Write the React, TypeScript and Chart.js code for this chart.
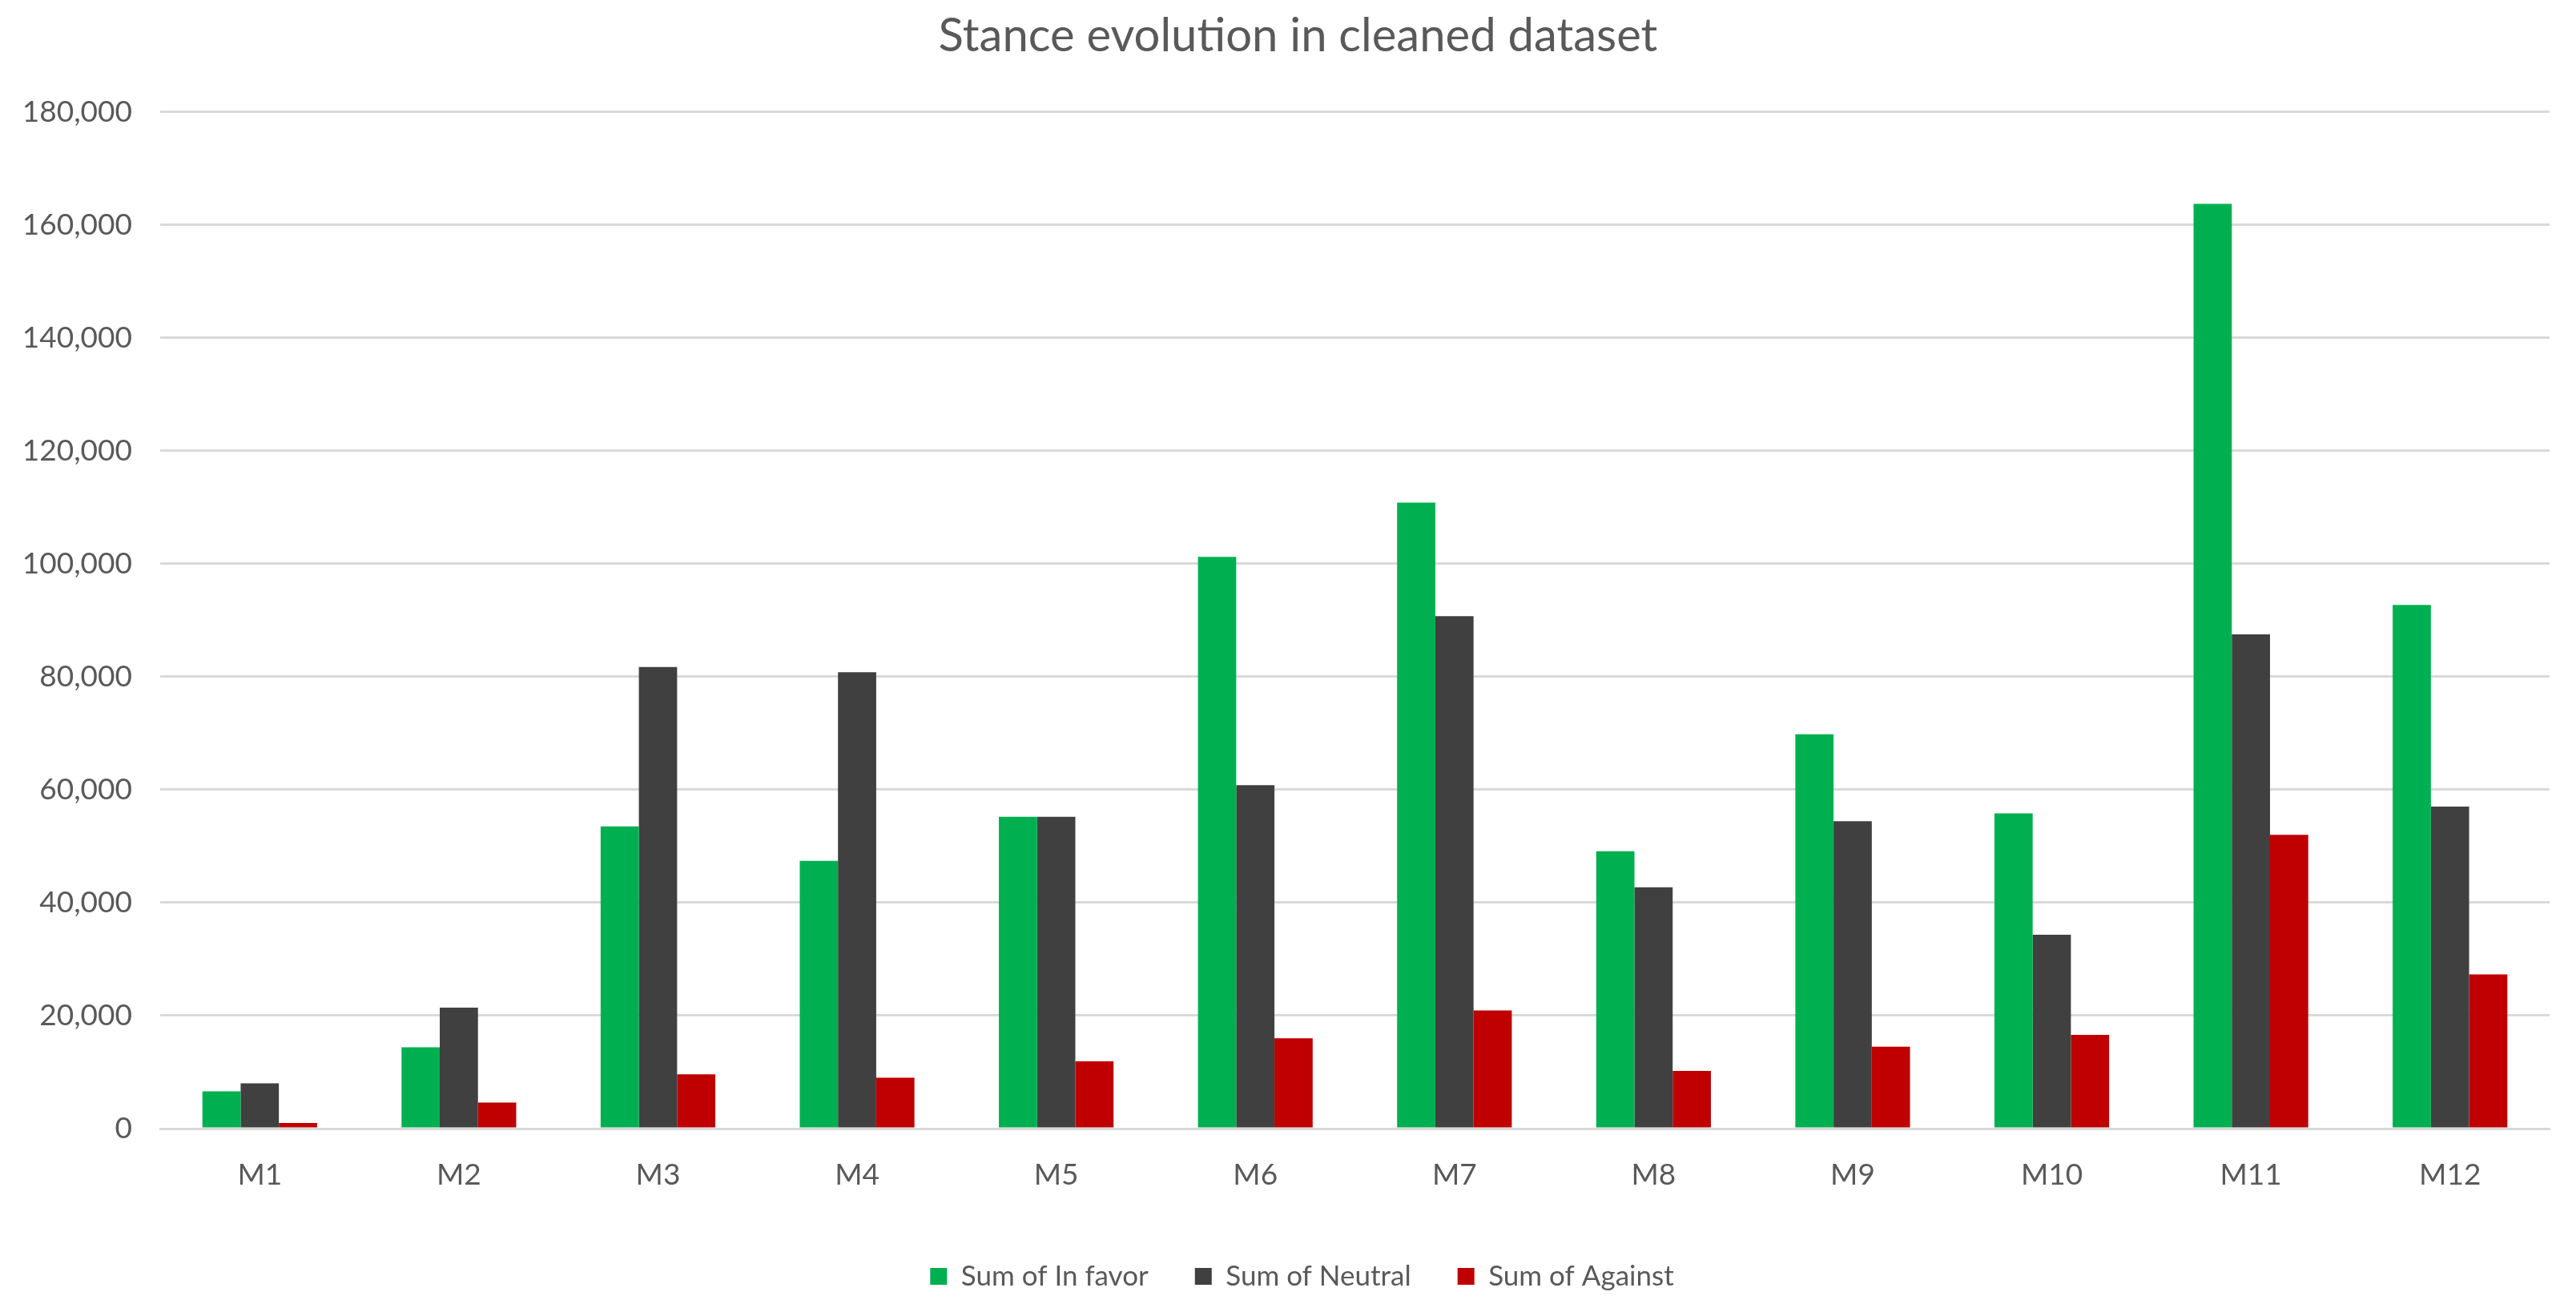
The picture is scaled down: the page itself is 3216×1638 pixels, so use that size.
import React, { useEffect, useRef } from "react";
import { Chart, registerables } from "chart.js";

Chart.register(...registerables);

const categories = ["M1", "M2", "M3", "M4", "M5", "M6", "M7", "M8", "M9", "M10", "M11", "M12"];
const inFavor = [6600, 14400, 53500, 47400, 55200, 101200, 110800, 49100, 69800, 55800, 163700, 92700];
const neutral = [8000, 21400, 81700, 80800, 55200, 60800, 90700, 42700, 54400, 34300, 87500, 57000];
const against = [1000, 4600, 9600, 9000, 11900, 16000, 20900, 10200, 14500, 16600, 52000, 27300];
const seriesNames = ["Sum of In favor", "Sum of Neutral", "Sum of Against"];
const titleText = "Stance evolution in cleaned dataset";

const FONT = "Lato, 'Open Sans', sans-serif";
const TEXT = "#595959";

const shiftBoxes = {
  id: "shiftBoxes",
  afterLayout(chart: any) {
    const t = chart.titleBlock;
    if (t) {
      t.left += 29;
      t.right += 29;
    }
    const l = chart.legend;
    if (l) {
      l.left += 34;
      l.right += 34;
    }
  },
};

export default function App() {
  const ref = useRef<HTMLCanvasElement>(null);
  useEffect(() => {
    if (!ref.current) return;
    const chart = new Chart(ref.current, {
      type: "bar",
      data: {
        labels: categories,
        datasets: [
          { label: seriesNames[0], data: inFavor, backgroundColor: "#00B050" },
          { label: seriesNames[1], data: neutral, backgroundColor: "#404040" },
          { label: seriesNames[2], data: against, backgroundColor: "#C00000" },
        ],
      },
      plugins: [shiftBoxes],
      options: {
        animation: false,
        responsive: false,
        devicePixelRatio: 1,
        layout: { padding: { left: 0, right: 33, top: 0, bottom: 17 } },
        datasets: { bar: { categoryPercentage: 0.576, barPercentage: 1 } },
        plugins: {
          tooltip: { enabled: false },
          title: {
            display: true,
            text: titleText,
            color: TEXT,
            font: { family: FONT, size: 58, weight: "normal" },
            padding: { top: 10, bottom: 60 },
          },
          legend: {
            position: "bottom",
            labels: {
              color: TEXT,
              font: { family: FONT, size: 35 },
              boxWidth: 21,
              boxHeight: 21,
              padding: 58,
            },
          },
        },
        scales: {
          x: {
            afterFit: (scale: any) => {
              scale.height = 109;
            },
            grid: { display: false, drawTicks: false },
            border: { display: true, color: "#D9D9D9", width: 3 },
            ticks: { color: TEXT, font: { family: FONT, size: 37 }, padding: 36 },
          },
          y: {
            min: 0,
            max: 180000,
            afterFit: (scale: any) => {
              scale.width = 200;
            },
            grid: { color: "#D9D9D9", lineWidth: 3, drawTicks: false },
            border: { display: false },
            ticks: {
              stepSize: 20000,
              color: TEXT,
              font: { family: FONT, size: 37 },
              padding: 35,
              callback: (v: any) => Number(v).toLocaleString("en-US"),
            },
          },
        },
      },
    });
    return () => chart.destroy();
  }, []);
  return (
    <div style={{ position: "fixed", left: 0, top: 0, width: 3216, height: 1638, background: "#fff" }}>
      <canvas ref={ref} width={3216} height={1638} style={{ width: 3216, height: 1638 }} />
    </div>
  );
}
